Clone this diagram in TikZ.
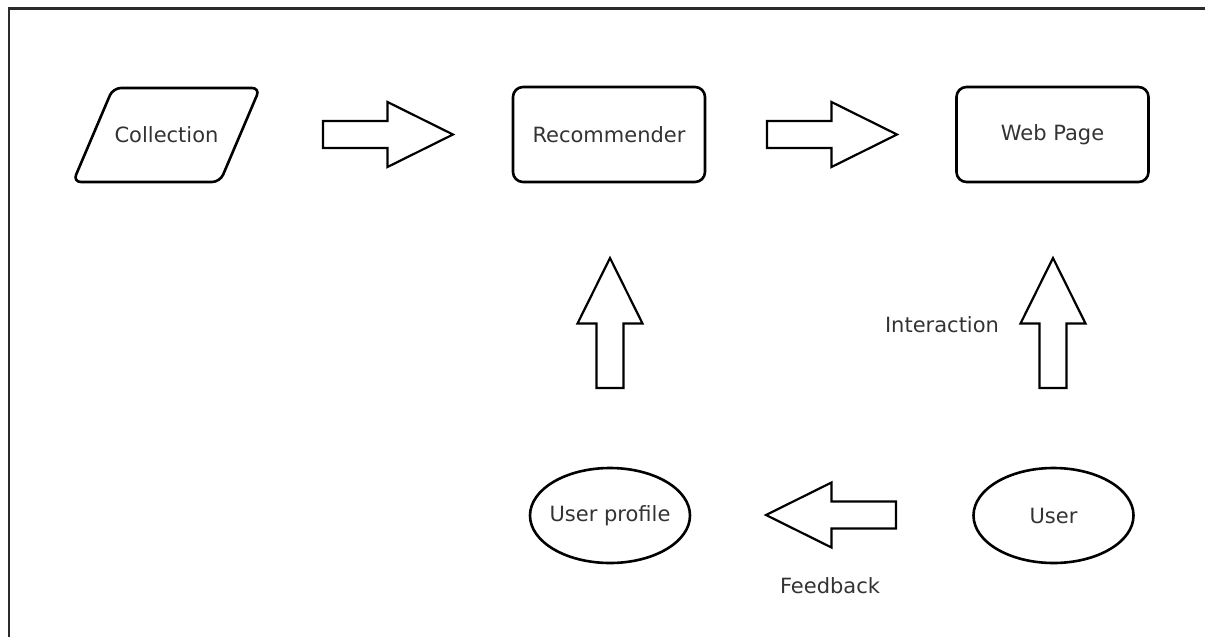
\documentclass[tikz,border=0pt]{standalone}
\usepackage{fontspec}
\setmainfont{DejaVu Sans}
\usetikzlibrary{shapes.geometric}
\definecolor{txt}{HTML}{333333}
\definecolor{frm}{HTML}{2B2B2B}
\tikzset{
  lbl/.style={text=txt, font=\fontsize{21}{25}\selectfont, inner sep=0pt},
  roundbox/.style={draw=black, line width=2.6pt, rounded corners=10pt, minimum width=192pt, minimum height=95pt, lbl},
  oval/.style={draw=black, line width=2.6pt, ellipse, minimum width=160pt, minimum height=95pt, inner sep=0pt},
  blockarrow/.pic={
    \draw[black, line width=2.2pt, line join=miter, fill=white]
      (0,-13.5) -- (64.5,-13.5) -- (64.5,-32.5) -- (130,0) -- (64.5,32.5) -- (64.5,13.5) -- (0,13.5) -- cycle;
  }
}
\begin{document}
\begin{tikzpicture}[x=1pt,y=-1pt]
\useasboundingbox (0,0) rectangle (1205,637);
\clip (0,0) rectangle (1205,637);
% frame
\draw[frm, line width=2.6pt] (9,640) -- (9,8.5) -- (1210,8.5);

% Collection (parallelogram)
\node[lbl] (coll) at (166.5,134.5) {Collection};
\draw[black, line width=2.6pt, rounded corners=8pt] (113,88) -- (260,88) -- (220,182) -- (73,182) -- cycle;

% boxes
\node[roundbox] (rec) at (609,134.5) {Recommender};
\node[roundbox] (web) at (1052.5,134.5) {Web Page};

% ellipses
\node[oval, label={[lbl]center:User profile}] (prof) at (610,515.5) {};
\node[oval, label={[lbl]center:User}] (user) at (1053.5,515.5) {};

% labels
\node[lbl] (inter) at (942,325) {Interaction};
\node[lbl] (feed) at (830,586) {Feedback};

% block arrows
\pic at (323,134.5) {blockarrow};
\pic at (767,134.5) {blockarrow};
\pic[rotate=90] at (610,388) {blockarrow};
\pic[rotate=90] at (1053,388) {blockarrow};
\pic[rotate=180] at (896,515) {blockarrow};
\end{tikzpicture}
\end{document}
